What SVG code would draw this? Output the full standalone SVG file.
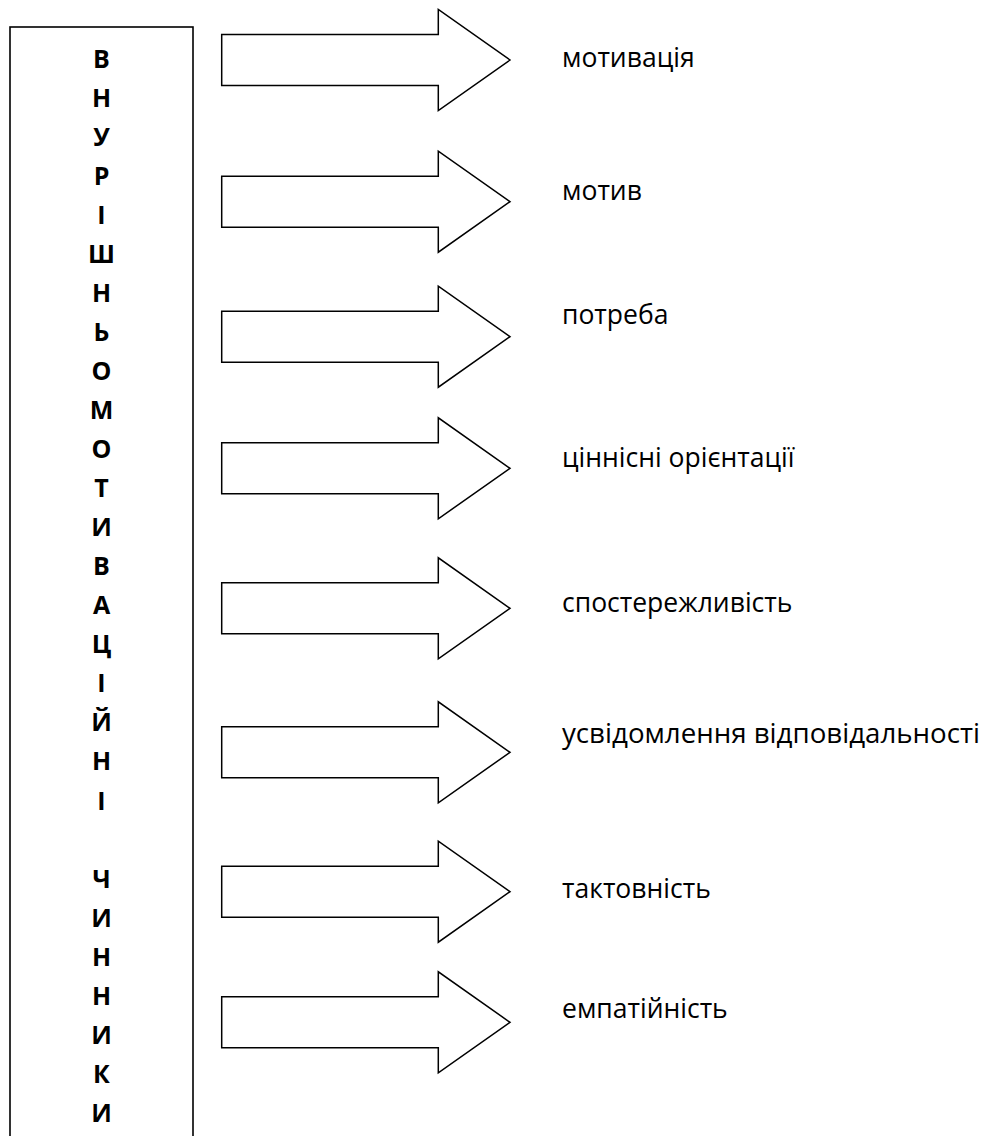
<svg xmlns="http://www.w3.org/2000/svg" width="987" height="1136" viewBox="0 0 987 1136">
<defs>
<style>
.box{fill:#fff;stroke:#000;stroke-width:1.6}
.arr{fill:#fff;stroke:#000;stroke-width:1.5;stroke-linejoin:miter}
.v{font-family:"Open Sans","Liberation Sans",sans-serif;font-weight:bold;font-size:25px;text-anchor:middle;fill:#000}
.lbl{font-family:"Open Sans","Liberation Sans",sans-serif;font-size:26.5px;fill:#000}
</style>
<path id="ar" class="arr" d="M221.7,-25.5 H438.3 V-50.5 L510,0 L438.3,50.5 V25.5 H221.7 Z"/>
</defs>
<rect width="987" height="1136" fill="#fff"/>
<g id="main-box">
<rect class="box" x="10" y="27" width="183" height="1130"/>
<text class="v" x="101.5" y="67.7">В</text>
<text class="v" x="101.5" y="106.7">Н</text>
<text class="v" x="101.5" y="145.8">У</text>
<text class="v" x="101.5" y="184.8">Р</text>
<text class="v" x="101.5" y="223.9">І</text>
<text class="v" x="101.5" y="262.9">Ш</text>
<text class="v" x="101.5" y="301.9">Н</text>
<text class="v" x="101.5" y="341">Ь</text>
<text class="v" x="101.5" y="380">О</text>
<text class="v" x="101.5" y="419.1">М</text>
<text class="v" x="101.5" y="458.1">О</text>
<text class="v" x="101.5" y="497.1">Т</text>
<text class="v" x="101.5" y="536.2">И</text>
<text class="v" x="101.5" y="575.2">В</text>
<text class="v" x="101.5" y="614.3">А</text>
<text class="v" x="101.5" y="653.3">Ц</text>
<text class="v" x="101.5" y="692.3">І</text>
<text class="v" x="101.5" y="731.4">Й</text>
<text class="v" x="101.5" y="770.4">Н</text>
<text class="v" x="101.5" y="809.5">І</text>
<text class="v" x="101.5" y="887.5">Ч</text>
<text class="v" x="101.5" y="926.6">И</text>
<text class="v" x="101.5" y="965.6">Н</text>
<text class="v" x="101.5" y="1004.7">Н</text>
<text class="v" x="101.5" y="1043.7">И</text>
<text class="v" x="101.5" y="1082.7">К</text>
<text class="v" x="101.5" y="1121.8">И</text>
</g>
<g id="connectors">
<use href="#ar" y="60"/>
<use href="#ar" y="201.7"/>
<use href="#ar" y="336.7"/>
<use href="#ar" y="468.3"/>
<use href="#ar" y="608.3"/>
<use href="#ar" y="752.3"/>
<use href="#ar" y="891.7"/>
<use href="#ar" y="1022.3"/>
</g>
<g id="n1"><text class="lbl" x="562" y="66.7">мотивація</text></g>
<g id="n2"><text class="lbl" x="562" y="200">мотив</text></g>
<g id="n3"><text class="lbl" x="562" y="324">потреба</text></g>
<g id="n4"><text class="lbl" x="562" y="466.7">ціннісні орієнтації</text></g>
<g id="n5"><text class="lbl" x="562" y="611.7">спостережливість</text></g>
<g id="n6"><text class="lbl" x="562" y="743.3" textLength="418" lengthAdjust="spacingAndGlyphs">усвідомлення відповідальності</text></g>
<g id="n7"><text class="lbl" x="562" y="897.7">тактовність</text></g>
<g id="n8"><text class="lbl" x="562" y="1018.3">емпатійність</text></g>
</svg>
